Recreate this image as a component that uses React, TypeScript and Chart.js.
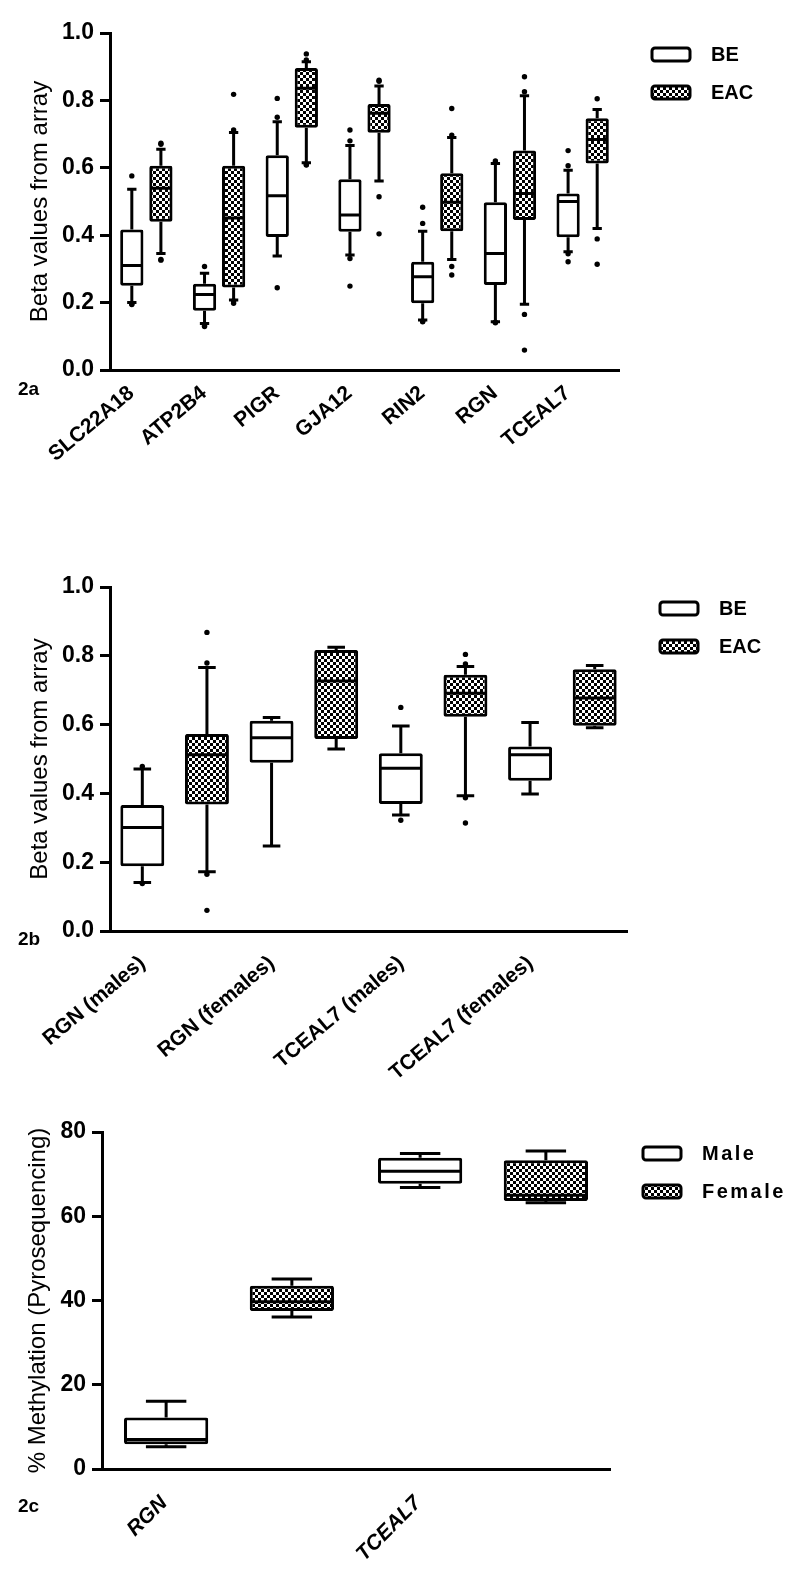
import React, { useEffect, useRef } from 'react';
import { Chart, registerables } from 'chart.js';

Chart.register(...registerables);

const FONT = "'Liberation Sans', Arial, Helvetica, sans-serif";

// ---------- Panel 2a ----------
const A_CATEGORIES = ['SLC22A18', 'ATP2B4', 'PIGR', 'GJA12', 'RIN2', 'RGN', 'TCEAL7'];
// [lower whisker, Q1, median, Q3, upper whisker]
const A_BE = [
  [0.2, 0.25, 0.31, 0.417, 0.536],
  [0.138, 0.176, 0.224, 0.256, 0.287],
  [0.338, 0.395, 0.517, 0.637, 0.737],
  [0.341, 0.41, 0.46, 0.566, 0.666],
  [0.148, 0.198, 0.277, 0.321, 0.412],
  [0.143, 0.252, 0.346, 0.498, 0.613],
  [0.351, 0.394, 0.5, 0.524, 0.593],
];
const A_EAC = [
  [0.346, 0.44, 0.539, 0.606, 0.655],
  [0.208, 0.245, 0.451, 0.606, 0.705],
  [0.615, 0.719, 0.836, 0.896, 0.915],
  [0.561, 0.704, 0.762, 0.789, 0.843],
  [0.328, 0.412, 0.498, 0.584, 0.69],
  [0.195, 0.445, 0.524, 0.651, 0.814],
  [0.42, 0.613, 0.684, 0.747, 0.773],
];
const A_BE_OUTLIERS = [
  [0.576, 0.196, 0.194],
  [0.307, 0.131, 0.129],
  [0.75, 0.806, 0.244],
  [0.68, 0.712, 0.331, 0.249],
  [0.435, 0.483, 0.143, 0.145],
  [0.62, 0.615, 0.14, 0.142],
  [0.606, 0.651, 0.345, 0.321],
];
const A_EAC_OUTLIERS = [
  [0.673, 0.67, 0.326, 0.328],
  [0.712, 0.818, 0.198, 0.205],
  [0.938, 0.92, 0.608, 0.61],
  [0.857, 0.86, 0.514, 0.404],
  [0.697, 0.776, 0.307, 0.282],
  [0.826, 0.87, 0.165, 0.059],
  [0.805, 0.389, 0.314],
];

// ---------- Panel 2b ----------
const B_CATEGORIES = ['RGN (males)', 'RGN (females)', 'TCEAL7 (males)', 'TCEAL7 (females)'];
const B_BE = [
  [0.141, 0.188, 0.301, 0.366, 0.471],
  [0.247, 0.489, 0.562, 0.611, 0.621],
  [0.337, 0.369, 0.473, 0.517, 0.596],
  [0.398, 0.437, 0.512, 0.536, 0.606],
];
const B_EAC = [
  [0.172, 0.368, 0.512, 0.573, 0.766],
  [0.529, 0.558, 0.727, 0.817, 0.825],
  [0.393, 0.623, 0.691, 0.745, 0.769],
  [0.591, 0.597, 0.677, 0.761, 0.772],
];
const B_BE_OUTLIERS = [[0.478, 0.138], [], [0.65, 0.322], []];
const B_EAC_OUTLIERS = [[0.779, 0.868, 0.165, 0.06], [], [0.776, 0.804, 0.387, 0.314], []];

// ---------- Panel 2c ----------
const C_CATEGORIES = ['RGN', 'TCEAL7'];
const C_MALE = [
  [5.3, 5.9, 7.0, 12.2, 16.1],
  [66.8, 67.7, 70.7, 73.9, 74.9],
];
const C_FEMALE = [
  [36.1, 37.5, 39.7, 43.5, 45.1],
  [63.2, 63.6, 65.0, 73.3, 75.5],
];

function makeChecker(): CanvasPattern | string {
  const c = document.createElement('canvas');
  c.width = 6;
  c.height = 6;
  const g = c.getContext('2d');
  if (!g) return '#777';
  g.fillStyle = '#fff';
  g.fillRect(0, 0, 6, 6);
  g.fillStyle = '#000';
  g.fillRect(0, 0, 3, 3);
  g.fillRect(3, 3, 3, 3);
  return g.createPattern(c, 'repeat') || '#777';
}

const boxWhiskers = {
  id: 'boxWhiskers',
  afterDatasetsDraw(chart: any, _args: any, opts: any) {
    const ctx = chart.ctx;
    const y = chart.scales.y;
    const py = (v: number) => y.getPixelForValue(v);
    chart.data.datasets.forEach((ds: any, di: number) => {
      const meta = chart.getDatasetMeta(di);
      if (!meta.visible) return;
      meta.data.forEach((bar: any, i: number) => {
        const s = ds.stats[i];
        if (!s) return;
        const { x, width } = bar.getProps(['x', 'width'], true);
        const half = width / 2;
        const capHalf = (width * opts.capRatio) / 2;
        ctx.save();
        ctx.strokeStyle = '#000';
        ctx.lineWidth = 3;
        ctx.lineCap = 'butt';
        ctx.beginPath();
        ctx.moveTo(x - half + 1.5, py(s[2]));
        ctx.lineTo(x + half - 1.5, py(s[2]));
        ctx.moveTo(x, py(s[3]));
        ctx.lineTo(x, py(s[4]));
        ctx.moveTo(x - capHalf, py(s[4]));
        ctx.lineTo(x + capHalf, py(s[4]));
        ctx.moveTo(x, py(s[1]));
        ctx.lineTo(x, py(s[0]));
        ctx.moveTo(x - capHalf, py(s[0]));
        ctx.lineTo(x + capHalf, py(s[0]));
        ctx.stroke();
        ctx.fillStyle = '#000';
        ((ds.outliers && ds.outliers[i]) || []).forEach((v: number) => {
          ctx.beginPath();
          ctx.arc(x, py(v), 2.7, 0, Math.PI * 2);
          ctx.fill();
        });
        ctx.restore();
      });
    });
  },
};

const boxLegend = {
  id: 'boxLegend',
  afterDraw(chart: any, _args: any, opts: any) {
    const { ctx, chartArea } = chart;
    chart.data.datasets.forEach((ds: any, i: number) => {
      const bx = chartArea.right + opts.offsetX;
      const by = chartArea.top + opts.offsetY + i * opts.spacing;
      ctx.save();
      ctx.beginPath();
      if (ctx.roundRect) ctx.roundRect(bx, by, opts.boxW, opts.boxH, 3);
      else ctx.rect(bx, by, opts.boxW, opts.boxH);
      ctx.fillStyle = ds.backgroundColor;
      ctx.fill();
      ctx.lineWidth = 3;
      ctx.strokeStyle = '#000';
      ctx.stroke();
      ctx.fillStyle = '#000';
      ctx.font = `bold ${opts.fontSize}px ${FONT}`;
      ctx.textBaseline = 'middle';
      ctx.textAlign = 'left';
      if (opts.letterSpacing) ctx.letterSpacing = opts.letterSpacing;
      ctx.fillText(ds.label, bx + opts.boxW + opts.gap, by + opts.boxH / 2 + 1);
      ctx.restore();
    });
  },
};

type PanelParams = {
  categories: string[];
  names: [string, string];
  s1: number[][];
  s2: number[][];
  o1: number[][];
  o2: number[][];
  catPct: number;
  barPct: number;
  capRatio: number;
  padTop: number;
  padRight: number;
  yWidth: number;
  xHeight: number;
  yMax: number;
  step: number;
  decimals: number;
  yTitle: string;
  titlePad: number;
  labelOffset: number;
  labelPad: number;
  labelSize: number;
  rotation: number;
  italic: boolean;
  letterSpacing?: string;
};

function makeConfig(p: PanelParams): any {
  const pattern = makeChecker();
  const common = {
    borderColor: '#000',
    borderWidth: 3,
    borderSkipped: false,
    borderRadius: 2,
    categoryPercentage: p.catPct,
    barPercentage: p.barPct,
  };
  return {
    type: 'bar',
    data: {
      labels: p.categories,
      datasets: [
        { ...common, label: p.names[0], data: p.s1.map((d) => [d[1], d[3]]), stats: p.s1, outliers: p.o1, backgroundColor: '#fff' },
        { ...common, label: p.names[1], data: p.s2.map((d) => [d[1], d[3]]), stats: p.s2, outliers: p.o2, backgroundColor: pattern },
      ],
    },
    options: {
      responsive: false,
      animation: false,
      devicePixelRatio: 1,
      layout: { padding: { top: p.padTop, right: p.padRight, left: 0, bottom: 0 } },
      plugins: {
        legend: { display: false },
        tooltip: { enabled: false },
        boxWhiskers: { capRatio: p.capRatio },
        boxLegend: { offsetX: 33, offsetY: 15, spacing: 38, boxW: 38, boxH: 13, gap: 21, fontSize: 20, letterSpacing: p.letterSpacing },
      },
      scales: {
        x: {
          grid: { display: false, drawTicks: false },
          border: { display: true, color: '#000', width: 3 },
          ticks: {
            autoSkip: false,
            maxRotation: p.rotation,
            minRotation: p.rotation,
            labelOffset: p.labelOffset,
            padding: p.labelPad,
            color: '#000',
            font: { family: FONT, size: p.labelSize, weight: 'bold', style: p.italic ? 'italic' : 'normal' },
          },
          afterFit: (s: any) => {
            s.height = p.xHeight;
          },
        },
        y: {
          min: 0,
          max: p.yMax,
          ticks: {
            stepSize: p.step,
            color: '#000',
            padding: 6,
            font: { family: FONT, size: 23, weight: 'bold' },
            callback: (v: any) => Number(v).toFixed(p.decimals),
          },
          grid: { display: true, drawOnChartArea: false, drawTicks: true, tickLength: 10, tickWidth: 3, tickColor: '#000' },
          border: { display: true, color: '#000', width: 3 },
          title: { display: true, text: p.yTitle, color: '#000', font: { family: FONT, size: 24 }, padding: { top: p.titlePad, bottom: 0 } },
          afterFit: (s: any) => {
            s.width = p.yWidth;
          },
        },
      },
    },
    plugins: [boxWhiskers, boxLegend],
  };
}

function Panel({ top, height, params }: { top: number; height: number; params: PanelParams }) {
  const ref = useRef<HTMLCanvasElement>(null);
  useEffect(() => {
    if (!ref.current) return;
    const chart = new Chart(ref.current, makeConfig(params));
    return () => chart.destroy();
  }, []);
  return (
    <canvas
      ref={ref}
      width={800}
      height={height}
      style={{ position: 'absolute', left: 0, top, width: 800, height }}
    />
  );
}

const panelA: PanelParams = {
  categories: A_CATEGORIES,
  names: ['BE', 'EAC'],
  s1: A_BE,
  s2: A_EAC,
  o1: A_BE_OUTLIERS,
  o2: A_EAC_OUTLIERS,
  catPct: 0.8,
  barPct: 0.8,
  capRatio: 0.4,
  padTop: 33,
  padRight: 181,
  yWidth: 110,
  xHeight: 175,
  yMax: 1,
  step: 0.2,
  decimals: 1,
  yTitle: 'Beta values from array',
  titlePad: 26,
  labelOffset: -15,
  labelPad: 11,
  labelSize: 21,
  rotation: 40,
  italic: false,
};

const panelB: PanelParams = {
  categories: B_CATEGORIES,
  names: ['BE', 'EAC'],
  s1: B_BE,
  s2: B_EAC,
  o1: B_BE_OUTLIERS,
  o2: B_EAC_OUTLIERS,
  catPct: 1.0,
  barPct: 0.68,
  capRatio: 0.4,
  padTop: 42,
  padRight: 173,
  yWidth: 110,
  xHeight: 169,
  yMax: 1,
  step: 0.2,
  decimals: 1,
  yTitle: 'Beta values from array',
  titlePad: 26,
  labelOffset: -32,
  labelPad: 20,
  labelSize: 21,
  rotation: 40,
  italic: false,
};

const panelC: PanelParams = {
  categories: C_CATEGORIES,
  names: ['Male', 'Female'],
  s1: C_MALE,
  s2: C_FEMALE,
  o1: [[], []],
  o2: [[], []],
  catPct: 0.99,
  barPct: 0.67,
  capRatio: 0.48,
  padTop: 32,
  padRight: 190,
  yWidth: 102,
  xHeight: 108,
  yMax: 80,
  step: 20,
  decimals: 0,
  yTitle: '% Methylation (Pyrosequencing)',
  titlePad: 24,
  labelOffset: -65,
  labelPad: 22,
  labelSize: 21,
  rotation: 45,
  italic: true,
  letterSpacing: '2.5px',
};

const tagStyle = (top: number): React.CSSProperties => ({
  position: 'absolute',
  left: 18,
  top,
  fontFamily: FONT,
  fontWeight: 'bold',
  fontSize: 19,
  lineHeight: '19px',
  color: '#000',
});

export default function App() {
  return (
    <div style={{ position: 'absolute', left: 0, top: 0, width: 800, height: 1577, background: '#fff' }}>
      <Panel top={0} height={545} params={panelA} />
      <Panel top={545} height={555} params={panelB} />
      <Panel top={1100} height={477} params={panelC} />
      <div style={tagStyle(379)}>2a</div>
      <div style={tagStyle(929)}>2b</div>
      <div style={tagStyle(1496)}>2c</div>
    </div>
  );
}
